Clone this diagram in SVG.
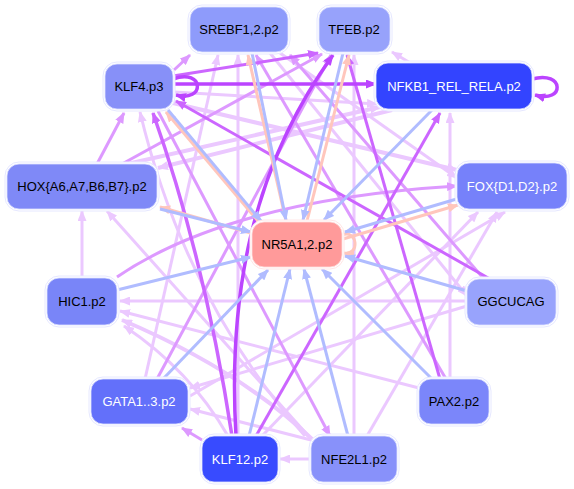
<svg xmlns="http://www.w3.org/2000/svg" width="574" height="489" viewBox="0 0 574 489">
<style>
.e{fill:none;stroke-width:3}
.b{stroke:#b0bcff}
.p{stroke:#ffc6bc}
.lp{stroke:#ebc8ff}
.mp{stroke:#dd99ff}
.sp{stroke:#cc66ff}
.xp{stroke:#bb44ff;stroke-width:3.5}
.n rect.o{fill:#fff;stroke:#e6e8ff;stroke-width:1}
.n rect.i{stroke:#dde1ff;stroke-width:0.8}
.n text{font-family:"Liberation Sans",Arial,sans-serif;font-size:13px;text-anchor:middle}
.w{fill:#fff}
.k{fill:#000}
</style>
<defs>
<marker id="mb" markerUnits="userSpaceOnUse" markerWidth="11" markerHeight="9" refX="10" refY="4.5" orient="auto"><path d="M0,0L11,4.5L0,9z" fill="#b0bcff"/></marker>
<marker id="mpk" markerUnits="userSpaceOnUse" markerWidth="11" markerHeight="9" refX="10" refY="4.5" orient="auto"><path d="M0,0L11,4.5L0,9z" fill="#ffc6bc"/></marker>
<marker id="mlp" markerUnits="userSpaceOnUse" markerWidth="11" markerHeight="9" refX="10" refY="4.5" orient="auto"><path d="M0,0L11,4.5L0,9z" fill="#ebc8ff"/></marker>
<marker id="mmp" markerUnits="userSpaceOnUse" markerWidth="11" markerHeight="9" refX="10" refY="4.5" orient="auto"><path d="M0,0L11,4.5L0,9z" fill="#dd99ff"/></marker>
<marker id="msp" markerUnits="userSpaceOnUse" markerWidth="11" markerHeight="9" refX="10" refY="4.5" orient="auto"><path d="M0,0L11,4.5L0,9z" fill="#cc66ff"/></marker>
<marker id="mxp" markerUnits="userSpaceOnUse" markerWidth="11" markerHeight="9" refX="10" refY="4.5" orient="auto"><path d="M0,0L11,4.5L0,9z" fill="#bb44ff"/></marker>
</defs>
<rect width="574" height="489" fill="#fff"/>
<g id="connectors">
<path class="e lp" marker-end="url(#mlp)" d="M412,64L392,52"/>
<path class="e lp" marker-end="url(#mlp)" d="M82,278L82,211"/>
<path class="e lp" marker-end="url(#mlp)" d="M312,440L107,211"/>
<path class="e lp" marker-end="url(#mlp)" d="M450,379L450,113"/>
<path class="e lp" marker-end="url(#mlp)" d="M467,301L120,301"/>
<path class="e lp" marker-end="url(#mlp)" d="M419,388L120,311"/>
<path class="e lp" style="stroke-width:4" marker-end="url(#mlp)" d="M313,440Q240,370 122,320"/>
<path class="e lp" marker-end="url(#mlp)" d="M228,436Q190,370 124,326"/>
<path class="e lp" marker-end="url(#mlp)" d="M311,440L190,409"/>
<path class="e lp" marker-end="url(#mlp)" d="M467,306L190,388"/>
<path class="e lp" marker-end="url(#mlp)" d="M311,459L280,459"/>
<path class="e lp" marker-end="url(#mlp)" d="M145,379L218,55"/>
<path class="e lp" marker-end="url(#mlp)" d="M238,436L238,55"/>
<path class="e lp" marker-end="url(#mlp)" d="M354,436L354,55"/>
<path class="e lp" style="stroke-width:4" marker-end="url(#mlp)" d="M127,164L380,107"/>
<path class="e lp" marker-end="url(#mlp)" d="M174,92L377,104"/>
<path class="e lp" style="stroke-width:4" marker-end="url(#mlp)" d="M173,103L457,170"/>
<path class="e lp" marker-end="url(#mlp)" d="M280,53L457,178"/>
<path class="e lp" marker-end="url(#mlp)" d="M270,53L467,296"/>
<path class="e lp" marker-end="url(#mlp)" d="M262,436L478,212"/>
<path class="e lp" marker-end="url(#mlp)" d="M367,436L497,212"/>
<path class="e lp" marker-end="url(#mlp)" d="M190,396L505,212"/>
<path class="e lp" style="stroke-width:4" marker-end="url(#mlp)" d="M392,110L158,168"/>
<path class="e lp" marker-end="url(#mlp)" d="M305,436Q185,300 140,112"/>
<path class="e mp" marker-end="url(#mmp)" d="M174,70L190,55"/>
<path class="e mp" marker-end="url(#mmp)" d="M97,164L124,113"/>
<path class="e mp" marker-end="url(#mmp)" d="M446,379L256,55"/>
<path class="e mp" marker-end="url(#mmp)" d="M484,279L290,55"/>
<path class="e mp" marker-end="url(#mmp)" d="M157,379L331,55"/>
<path class="e mp" marker-end="url(#mmp)" d="M122,164L322,54"/>
<path class="e mp" marker-end="url(#mmp)" d="M117,277Q230,200 457,186"/>
<path class="e mp" marker-end="url(#mmp)" d="M202,440L182,428"/>
<path class="e mp" marker-end="url(#mmp)" d="M158,111L330,436"/>
<path class="e sp" marker-end="url(#msp)" d="M440,379L347,55"/>
<path class="e sp" marker-end="url(#msp)" d="M256,436L440,113"/>
<path class="e sp" marker-end="url(#msp)" d="M490,279L176,101"/>
<path class="e sp" marker-end="url(#msp)" d="M173,76L318,53"/>
<path class="e sp" style="stroke-width:3.5" marker-end="url(#msp)" d="M232,436Q205,260 153,113"/>
<path class="e xp" marker-end="url(#mxp)" d="M236,436C228,300 250,170 333,55"/>
<path class="e xp" marker-end="url(#mxp)" d="M173,84L376,84"/>
<path class="e xp" marker-end="url(#mxp)" d="M173,79C205,68 205,103 176,95"/>
<path class="e xp" marker-end="url(#mxp)" d="M532,79C565,70 565,104 535,95"/>
<path class="e p" marker-end="url(#mpk)" d="M254,234L160,207"/>
<path class="e p" marker-end="url(#mpk)" d="M258,221L166,112"/>
<path class="e p" marker-end="url(#mpk)" d="M286,221L248,55"/>
<path class="e p" marker-end="url(#mpk)" d="M307,221L349,55"/>
<path class="e p" marker-end="url(#mpk)" d="M343,239L458,205"/>
<path class="e p" marker-end="url(#mpk)" d="M342,235C358,229 360,256 344,253"/>
<path class="e b" marker-end="url(#mb)" d="M160,209L251,232"/>
<path class="e b" marker-end="url(#mb)" d="M168,110L261,221"/>
<path class="e b" marker-end="url(#mb)" d="M252,53L286,220"/>
<path class="e b" marker-end="url(#mb)" d="M343,53L303,220"/>
<path class="e b" marker-end="url(#mb)" d="M432,110L324,220"/>
<path class="e b" marker-end="url(#mb)" d="M460,198L345,232"/>
<path class="e b" marker-end="url(#mb)" d="M467,291L345,256"/>
<path class="e b" marker-end="url(#mb)" d="M432,379L322,269"/>
<path class="e b" marker-end="url(#mb)" d="M348,436L304,269"/>
<path class="e b" marker-end="url(#mb)" d="M249,436L290,269"/>
<path class="e b" marker-end="url(#mb)" d="M163,379L268,270"/>
<path class="e b" marker-end="url(#mb)" d="M117,290L251,257"/>
</g>
<g id="node-SREBF" class="n"><rect class="o" x="188" y="5" width="102" height="49" rx="14"/><rect class="i" x="190" y="7" width="98" height="45" rx="12" fill="#8e9bfb"/><text class="k" x="239" y="34">SREBF1,2.p2</text></g>
<g id="node-TFEB" class="n"><rect class="o" x="317" y="5" width="75" height="49" rx="14"/><rect class="i" x="319" y="7" width="71" height="45" rx="12" fill="#97a2fb"/><text class="k" x="354" y="34">TFEB.p2</text></g>
<g id="node-KLF4" class="n"><rect class="o" x="103" y="62" width="72" height="49" rx="14"/><rect class="i" x="105" y="64" width="68" height="45" rx="12" fill="#8790f8"/><text class="k" x="139" y="91">KLF4.p3</text></g>
<g id="node-NFKB1" class="n"><rect class="o" x="374" y="61" width="160" height="50" rx="14"/><rect class="i" x="376" y="63" width="156" height="46" rx="12" fill="#3344ff"/><text class="w" x="454" y="91">NFKB1_REL_RELA.p2</text></g>
<g id="node-HOX" class="n"><rect class="o" x="5" y="162" width="154" height="49" rx="14"/><rect class="i" x="7" y="164" width="150" height="45" rx="12" fill="#7f89f7"/><text class="k" x="82" y="191">HOX{A6,A7,B6,B7}.p2</text></g>
<g id="node-FOX" class="n"><rect class="o" x="455" y="161" width="114" height="50" rx="14"/><rect class="i" x="457" y="163" width="110" height="46" rx="12" fill="#7681fa"/><text class="w" x="512" y="191">FOX{D1,D2}.p2</text></g>
<g id="node-NR5A" class="n"><rect class="o" x="250" y="220" width="94" height="49" rx="14" style="stroke:#ffe6e6"/><rect class="i" x="252" y="222" width="90" height="45" rx="12" fill="#ff9a9a" style="stroke:#ffdcdc"/><text class="k" x="297" y="249">NR5A1,2.p2</text></g>
<g id="node-HIC1" class="n"><rect class="o" x="45" y="276" width="74" height="51" rx="14"/><rect class="i" x="47" y="278" width="70" height="47" rx="12" fill="#7985f8"/><text class="k" x="82" y="306">HIC1.p2</text></g>
<g id="node-GGCUCAG" class="n"><rect class="o" x="465" y="277" width="93" height="50" rx="14"/><rect class="i" x="467" y="279" width="89" height="46" rx="12" fill="#98a3fc"/><text class="k" x="511" y="306">GGCUCAG</text></g>
<g id="node-GATA" class="n"><rect class="o" x="89" y="377" width="101" height="49" rx="14"/><rect class="i" x="91" y="379" width="97" height="45" rx="12" fill="#6370fa"/><text class="w" x="139" y="406">GATA1..3.p2</text></g>
<g id="node-PAX2" class="n"><rect class="o" x="417" y="377" width="74" height="49" rx="14"/><rect class="i" x="419" y="379" width="70" height="45" rx="12" fill="#7b86fa"/><text class="k" x="454" y="406">PAX2.p2</text></g>
<g id="node-KLF12" class="n"><rect class="o" x="200" y="434" width="80" height="50" rx="14"/><rect class="i" x="202" y="436" width="76" height="46" rx="12" fill="#384bff"/><text class="w" x="240" y="464">KLF12.p2</text></g>
<g id="node-NFE2L1" class="n"><rect class="o" x="309" y="434" width="90" height="50" rx="14"/><rect class="i" x="311" y="436" width="86" height="46" rx="12" fill="#8891fa"/><text class="k" x="354" y="464">NFE2L1.p2</text></g>
</svg>
